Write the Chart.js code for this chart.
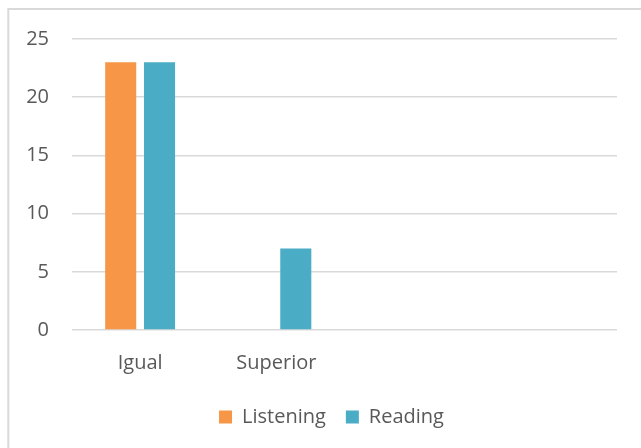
<!DOCTYPE html>
<html>
<head>
<meta charset="utf-8">
<script src="https://cdn.jsdelivr.net/npm/chart.js@4/dist/chart.umd.min.js"></script>
<style>
  html, body { margin: 0; padding: 0; background: #fff; }
  #wrap { width: 641px; height: 448px; position: relative; }
</style>
</head>
<body>
<div id="wrap"><canvas id="chart"></canvas></div>
<script>
// Categories and series
const categories = ['Igual', 'Superior', '', '']
const listening = [23, 0, null, null]
const reading = [23, 7, null, null]
const yTicks = [0, 5, 10, 15, 20, 25]

const TEXT = '#595959'
const GRID = '#d9d9d9'

Chart.defaults.font.family = '"Open Sans", Lato, sans-serif'
Chart.defaults.font.size = 20
Chart.defaults.color = TEXT

// Light frame around the chart, open on the right and bottom
const frame = {
  id: 'frame',
  beforeDraw(chart) {
    const { ctx, width, height } = chart
    ctx.save()
    ctx.strokeStyle = GRID
    ctx.lineWidth = 2
    ctx.beginPath()
    ctx.moveTo(8.3, height)
    ctx.lineTo(8.3, 9)
    ctx.lineTo(width, 9)
    ctx.stroke()
    ctx.restore()
  },
}

new Chart(document.getElementById('chart'), {
  type: 'bar',
  data: {
    labels: categories,
    datasets: [
      { label: 'Listening', data: listening, backgroundColor: '#F79646' },
      { label: 'Reading', data: reading, backgroundColor: '#4BACC6' },
    ],
  },
  options: {
    responsive: true,
    maintainAspectRatio: false,
    animation: false,
    layout: { padding: { left: 26, right: 4, top: 39, bottom: 11 } },
    datasets: { bar: { categoryPercentage: 0.57, barPercentage: 0.8 } },
    plugins: {
      legend: {
        position: 'bottom',
        labels: { boxWidth: 13, boxHeight: 13, padding: 20, color: TEXT },
      },
      tooltip: { enabled: false },
    },
    scales: {
      x: {
        grid: { display: false },
        border: { display: false },
        ticks: { padding: 13, color: TEXT, maxRotation: 0 },
        afterFit(s) { s.height = 57 },
      },
      y: {
        min: 0,
        max: 25,
        afterBuildTicks(s) { s.ticks = yTicks.map(v => ({ value: v })) },
        grid: { color: GRID, lineWidth: 1.5, drawTicks: false },
        border: { display: false },
        ticks: { padding: 23, color: TEXT },
        afterFit(s) { s.width = 46 },
      },
      // empty spacer on the right so the plot ends short of the legend's span
      y2: {
        position: 'right',
        grid: { display: false },
        border: { display: false },
        ticks: { display: false },
        afterFit(s) { s.width = 20 },
      },
    },
  },
  plugins: [frame],
})
</script>
</body>
</html>
